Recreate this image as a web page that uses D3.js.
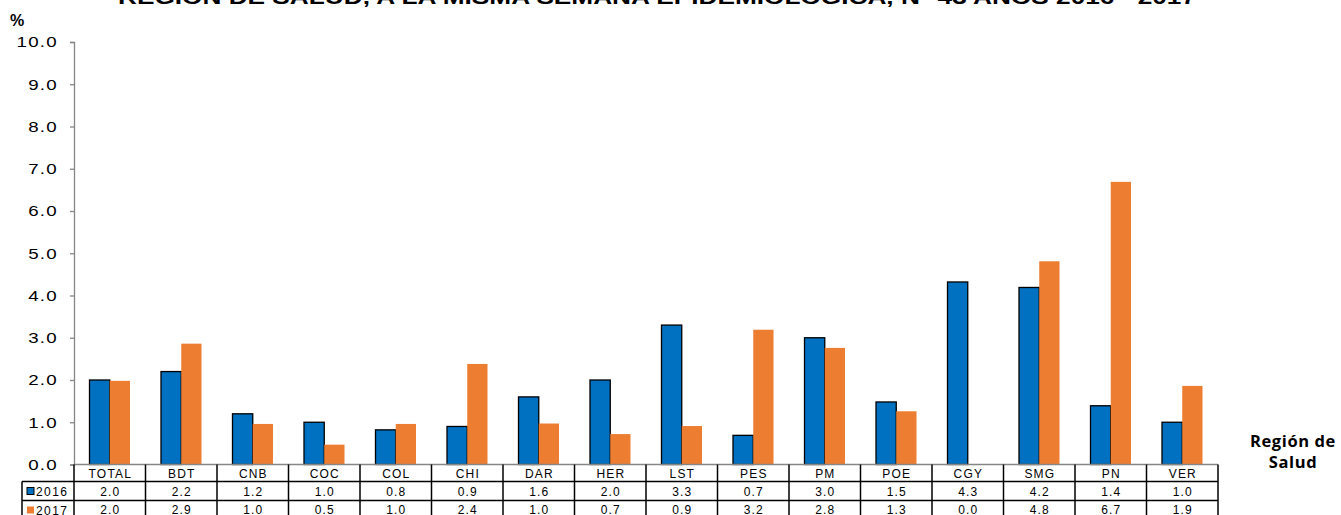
<!DOCTYPE html>
<html>
<head>
<meta charset="utf-8">
<script src="https://cdn.jsdelivr.net/npm/d3@7"></script>
<style>
  body { margin: 0; background: #fff; }
  svg { display: block; font-family: "Liberation Sans", Arial, sans-serif; }
</style>
</head>
<body>
<svg width="1341" height="515"></svg>
<script>
// data
const regions = ["TOTAL", "BDT", "CNB", "COC", "COL", "CHI", "DAR", "HER", "LST", "PES", "PM", "POE", "CGY", "SMG", "PN", "VER"];
const years = ["2016", "2017"];
const values2016 = [2.0, 2.2, 1.2, 1.0, 0.82, 0.9, 1.6, 2.0, 3.3, 0.69, 3.0, 1.48, 4.32, 4.19, 1.39, 1.0];
const values2017 = [1.98, 2.86, 0.96, 0.47, 0.96, 2.38, 0.97, 0.72, 0.91, 3.19, 2.76, 1.26, 0.0, 4.81, 6.69, 1.86];
const yTicks = [0, 1, 2, 3, 4, 5, 6, 7, 8, 9, 10];
const colors = {"2016": "#0070C0", "2017": "#ED7D31"};

const title = "REGIÓN DE SALUD, A LA MISMA SEMANA EPIDEMIOLÓGICA, N° 43 AÑOS 2016 - 2017";

const svg = d3.select("svg");

const plotLeft = 74, plotRight = 1218, plotTop = 42, plotBottom = 464.5;
const rowH = [17, 19, 19];   // header, 2016, 2017

const x = d3.scaleBand().domain(regions).range([plotLeft, plotRight]);
const x1 = d3.scaleBand().domain(years).range([15.5, 56]);
const y = d3.scaleLinear().domain([0, 10]).range([plotBottom, plotTop]);

// title (cut at the top, like in the picture)
svg.append("text")
   .attr("x", 657).attr("y", 4)
   .attr("text-anchor", "middle")
   .attr("font-weight", "bold")
   .attr("font-size", 20)
   .attr("textLength", 1078)
   .attr("lengthAdjust", "spacingAndGlyphs")
   .text(title);

svg.append("text")
   .attr("x", 10).attr("y", 26)
   .attr("font-weight", "bold")
   .attr("font-size", 16)
   .text("%");

// y axis (labels are stretched wide like the Excel original)
const sx = 1.25;
const yAxis = d3.axisLeft(y).tickValues(yTicks).tickSize(4).tickFormat(d3.format(".1f"));
const gy = svg.append("g")
   .attr("transform", `translate(${plotLeft},0)`)
   .call(yAxis);
gy.select(".domain").attr("stroke", "#868686").attr("stroke-width", 1.3);
gy.selectAll(".tick line").attr("stroke", "#868686").attr("stroke-width", 1.3);
gy.selectAll(".tick text")
  .attr("x", -16 / sx)
  .attr("transform", `scale(${sx},1)`)
  .attr("fill", "#000")
  .attr("font-size", 15)
  .attr("letter-spacing", 1)
  .attr("font-family", "'Liberation Sans', Arial, sans-serif");

// bars
const rows = regions.map((r, i) => ({region: r, "2016": values2016[i], "2017": values2017[i]}));

const groups = svg.selectAll("g.grp")
   .data(rows)
   .enter()
   .append("g")
   .attr("class", "grp")
   .attr("transform", d => `translate(${x(d.region)},0)`);

groups.selectAll("rect")
   .data(d => years.map(k => ({key: k, value: d[k]})))
   .enter()
   .append("rect")
   .attr("x", d => x1(d.key))
   .attr("y", d => y(d.value))
   .attr("width", x1.bandwidth())
   .attr("height", d => y(0) - y(d.value))
   .attr("fill", d => colors[d.key])
   .attr("stroke", d => d.key === "2016" ? "#000" : "none")
   .attr("stroke-width", 1.3);

// data table
const t0 = plotBottom;
const t1 = t0 + rowH[0];
const t2 = t1 + rowH[1];
const t3 = t2 + rowH[2];
const legendLeft = 22;

const table = svg.append("g").attr("stroke", "#000").attr("stroke-width", 1.5);
table.append("line").attr("x1", plotLeft).attr("x2", plotRight).attr("y1", t0).attr("y2", t0).attr("stroke", "#868686");
[t1, t2, t3].forEach(v => {
  table.append("line").attr("x1", legendLeft).attr("x2", plotRight).attr("y1", v).attr("y2", v);
});
x.domain().map(r => x(r)).concat([plotRight]).forEach(v => {
  table.append("line").attr("x1", v).attr("x2", v).attr("y1", t0).attr("y2", t3);
});
table.append("line").attr("x1", legendLeft).attr("x2", legendLeft).attr("y1", t1).attr("y2", t3);

const fmt = d3.format(".1f");
const cellText = (g, txt, cx, cy) => g.append("text")
   .attr("x", cx + 0.6).attr("y", cy)
   .attr("text-anchor", "middle")
   .attr("font-size", 12)
   .attr("letter-spacing", 1.2)
   .text(txt);

const tg = svg.append("g");
regions.forEach((r, i) => {
  const cx = x(r) + x.bandwidth() / 2;
  cellText(tg, r, cx, t0 + 13);
  cellText(tg, fmt(values2016[i]), cx, t1 + 14);
  cellText(tg, fmt(values2017[i]), cx, t2 + 13.5);
});

// legend keys in the table
years.forEach((k, i) => {
  const ry = [t1, t2][i];
  tg.append("rect")
    .attr("x", 27).attr("y", ry + 6)
    .attr("width", 7).attr("height", 7)
    .attr("fill", colors[k])
    .attr("stroke", k === "2016" ? "#000" : "none")
    .attr("stroke-width", 1);
  tg.append("text")
    .attr("x", 36).attr("y", ry + 14)
    .attr("font-size", 12)
    .attr("letter-spacing", 1.4)
    .text(k);
});

// axis title
const at = svg.append("text")
   .attr("text-anchor", "middle")
   .attr("font-family", "'Open Sans', 'Noto Sans', sans-serif")
   .attr("font-weight", "bold")
   .attr("font-size", 16.5)
   .attr("letter-spacing", 0.6);
at.append("tspan").attr("x", 1293).attr("y", 447).text("Región de");
at.append("tspan").attr("x", 1293).attr("y", 468).text("Salud");
</script>
</body>
</html>
